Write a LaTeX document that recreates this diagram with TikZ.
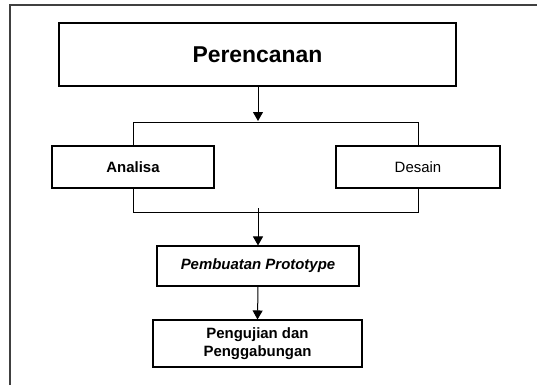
\documentclass[tikz,border=0pt]{standalone}
\usepackage{fontspec}
\setmainfont{Liberation Sans}
\usetikzlibrary{arrows.meta}
\tikzset{
  boxnode/.style={draw=black, line width=1.1bp, rectangle, inner sep=0pt, align=center, fill=white},
  thinline/.style={draw=black, line width=0.9bp},
  arrowline/.style={draw=black, line width=1bp, -{Triangle[width=10bp,length=9bp]}},
  framebar/.style={draw=black!75, line width=1.6bp}
}
\begin{document}
\begin{tikzpicture}[x=1bp, y=-1bp]
  \useasboundingbox (0,0) rectangle (537,385);
  % partial outer frame
  \coordinate (fbl) at (10,385);
  \coordinate (ftl) at (10,5);
  \coordinate (ftr) at (537,5);
  \draw[framebar] (fbl) -- (ftl) -- (ftr);

  \node[boxnode, minimum width=397bp, minimum height=63bp,
        font=\fontsize{23}{27}\selectfont\bfseries] (per) at (257.5,54.5) {Perencanan};
  \node[boxnode, minimum width=162bp, minimum height=42bp,
        font=\fontsize{15}{18}\selectfont\bfseries] (ana) at (133,167) {Analisa};
  \node[boxnode, minimum width=164bp, minimum height=42bp,
        font=\fontsize{15}{18}\selectfont] (des) at (418,167) {Desain};
  \node[boxnode, minimum width=202bp, minimum height=40bp,
        font=\fontsize{15}{18}\selectfont\bfseries\itshape] (pem) at (258,266) {Pembuatan Prototype};
  \node[boxnode, minimum width=209bp, minimum height=47bp,
        font=\fontsize{15}{18}\selectfont\bfseries] (pen) at (257.5,343.5) {Pengujian dan\\Penggabungan};

  % bracket coordinates
  \coordinate (tl) at (133,122);
  \coordinate (tr) at (418,122);
  \coordinate (tm) at (258,121);
  \coordinate (bl) at (133,212);
  \coordinate (br) at (418,212);
  \coordinate (bm) at (258,208);

  \draw[thinline] (ana.north) -- (tl) -- (tr) -- (des.north);
  \draw[thinline] (ana.south) -- (bl) -- (br) -- (des.south);

  \draw[arrowline] (per.south -| tm) -- (tm);
  \draw[arrowline] (bm) -- (pem.north);
  \draw[arrowline] (pem.south) -- (pen.north);
\end{tikzpicture}
\end{document}
